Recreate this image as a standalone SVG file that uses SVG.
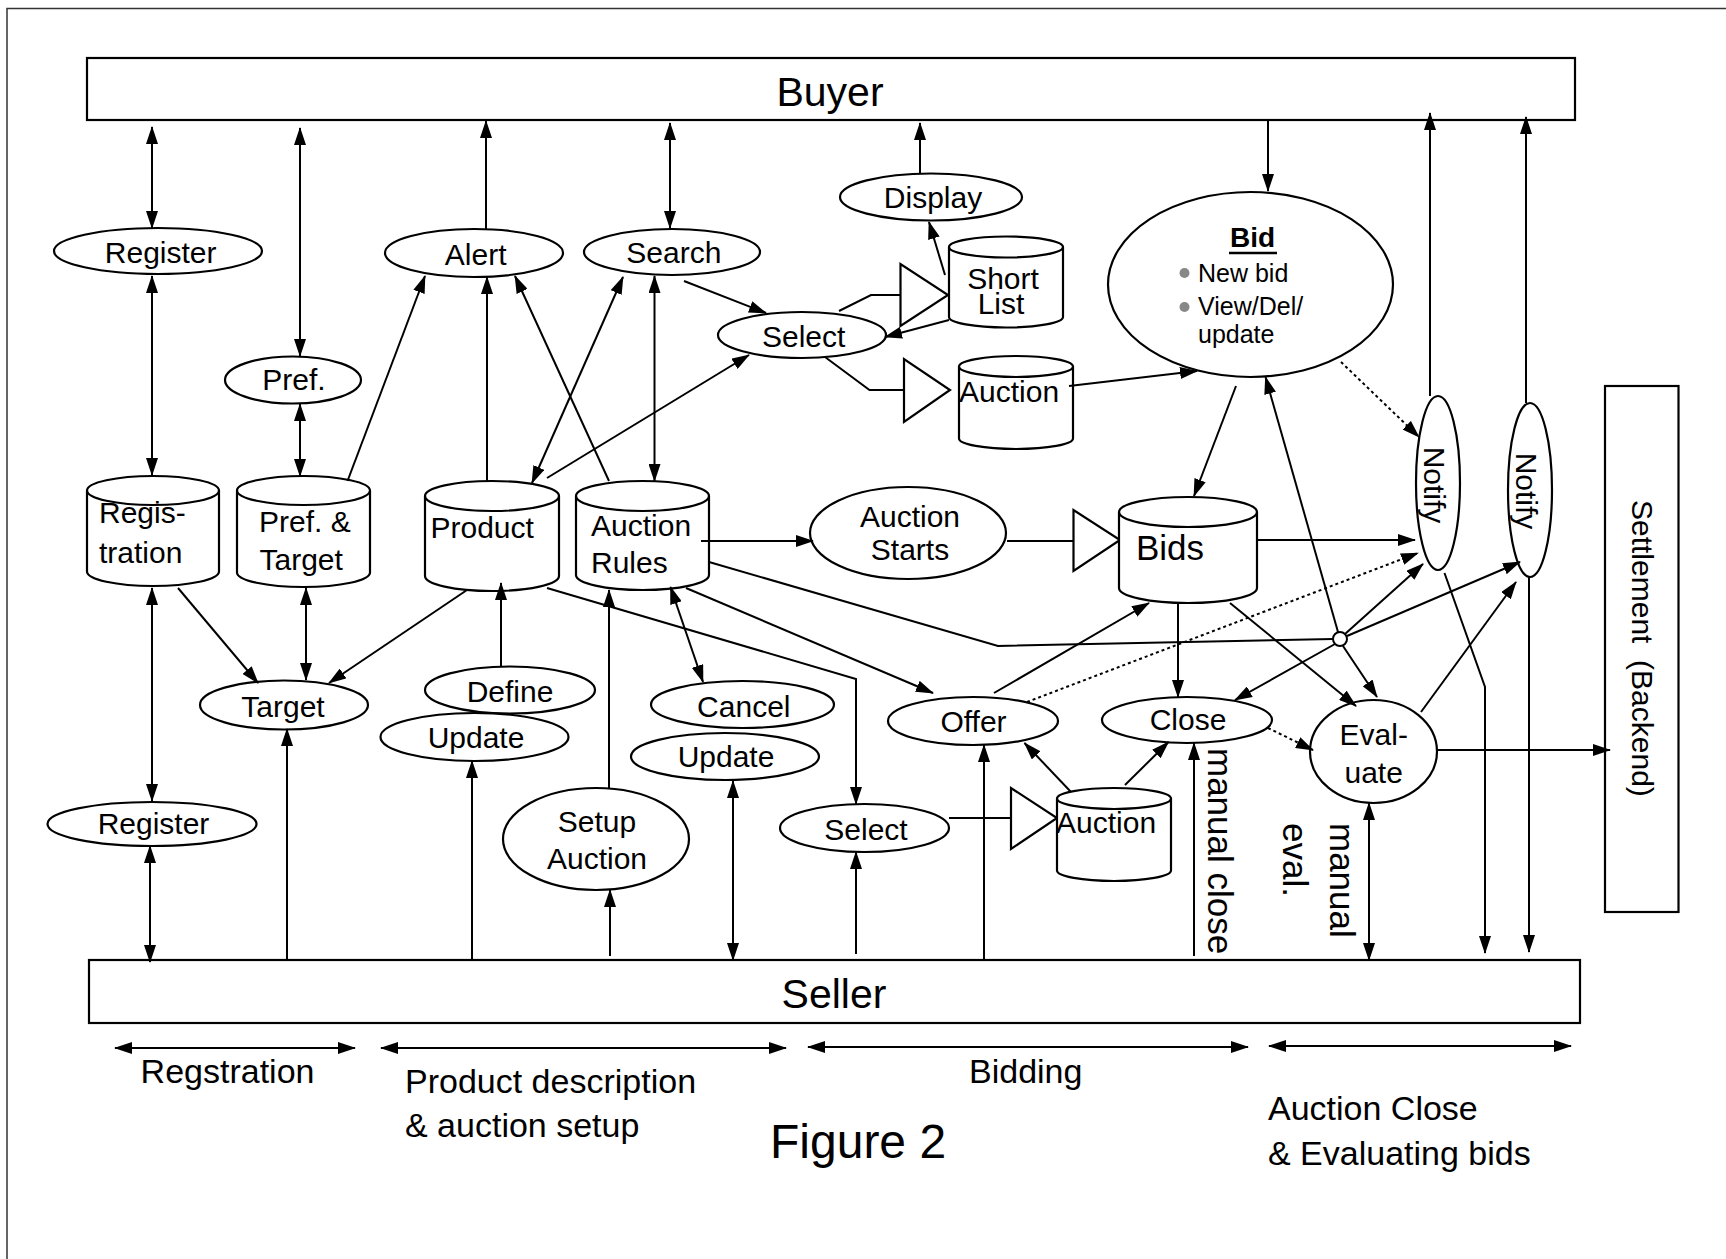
<svg xmlns="http://www.w3.org/2000/svg" width="1726" height="1259" viewBox="0 0 1726 1259">
  <defs>
    <marker id="ah" viewBox="0 0 18 12" markerWidth="18" markerHeight="12" refX="17" refY="6" orient="auto-start-reverse" markerUnits="userSpaceOnUse">
      <path d="M0,0 L18,6 L0,12 z" fill="#000"/>
    </marker>
    <style>
      .n { fill:#fff; stroke:#000; stroke-width:2.2 }
      .rim { fill:none; stroke:#000; stroke-width:2.2 }
      .c { fill:none; stroke:#000; stroke-width:2 }
      .a { marker-end:url(#ah) }
      .b { marker-start:url(#ah); marker-end:url(#ah) }
      .d { stroke-dasharray:3 3 }
      text { font-family:"Liberation Sans", Arial, Helvetica, sans-serif; fill:#000; font-size:30px }
      .m { text-anchor:middle }
      .big { font-size:41px }
      .lbl { font-size:34px }
      .rot { font-size:35px }
      .bl { font-size:25px }
      .bidt { font-size:28px; font-weight:bold }
      .bids { font-size:35px }
      .fig { font-size:48px }
    </style>
  </defs>

  <rect width="1726" height="1259" fill="#fff"/>
  <!-- page frame -->
  <path d="M7,1259 V8.5 H1726" fill="none" stroke="#333" stroke-width="1.5"/>

  <!-- actor bars -->
  <g id="buyer">
    <rect x="87" y="58" width="1488" height="62" class="n" stroke-width="2.5"/>
    <text x="830" y="106" class="m big">Buyer</text>
  </g>
  <g id="seller">
    <rect x="89" y="960" width="1491" height="63" class="n" stroke-width="2.5"/>
    <text x="834" y="1008" class="m big">Seller</text>
  </g>
  <g id="settlement">
    <rect x="1605" y="386" width="73.5" height="526" class="n"/>
    <text transform="translate(1632,500) rotate(90)" style="white-space:pre">Settlement  (Backend)</text>
  </g>

  <!-- buyer side processes -->
  <g id="register-buyer"><ellipse cx="158" cy="251" rx="104" ry="23" class="n"/><text x="160.7" y="262.7" class="m">Register</text></g>
  <g id="pref"><ellipse cx="293" cy="380" rx="68" ry="23.5" class="n"/><text x="294" y="390" class="m">Pref.</text></g>
  <g id="alert"><ellipse cx="474" cy="253" rx="89" ry="24" class="n"/><text x="475.7" y="265" class="m">Alert</text></g>
  <g id="search"><ellipse cx="672" cy="252" rx="88" ry="23" class="n"/><text x="673.8" y="263" class="m">Search</text></g>
  <g id="display"><ellipse cx="931" cy="197" rx="91" ry="23.5" class="n"/><text x="933" y="208" class="m">Display</text></g>
  <g id="select-buyer"><ellipse cx="802" cy="335" rx="84" ry="23" class="n"/><text x="803.7" y="346.7" class="m">Select</text></g>

  <g id="bid">
    <ellipse cx="1250.5" cy="284.5" rx="142.5" ry="92.5" class="n"/>
    <text x="1252.6" y="247" class="m bidt">Bid</text>
    <line x1="1229" y1="253" x2="1277" y2="253" stroke="#000" stroke-width="2.5"/>
    <circle cx="1184.5" cy="273" r="5" fill="#888"/>
    <circle cx="1184.5" cy="307" r="5" fill="#888"/>
    <text x="1198" y="282" class="bl">New bid</text>
    <text x="1198" y="315" class="bl">View/Del/</text>
    <text x="1198" y="343" class="bl">update</text>
  </g>

  <g id="notify-1"><ellipse cx="1438" cy="483" rx="22" ry="87" class="n"/><text transform="translate(1424,485) rotate(90)" class="m">Notify</text></g>
  <g id="notify-2"><ellipse cx="1530" cy="490" rx="22" ry="87" class="n"/><text transform="translate(1516,491) rotate(90)" class="m">Notify</text></g>

  <!-- data stores -->
  <g id="short-list">
    <polygon points="900.5,264 900.5,326 948,295" class="n"/>
    <path d="M949,247 V317 A57,10.5 0 0 0 1063,317 V247 A57,10.5 0 0 0 949,247 Z" class="n"/>
    <path d="M949,247 A57,10.5 0 0 0 1063,247" class="rim"/>
    <text x="1003" y="289" class="m">Short</text>
    <text x="1001" y="314" class="m">List</text>
  </g>
  <g id="auction-offers">
    <polygon points="904,359 904,422 950,390" class="n"/>
    <path d="M959,366.5 V438.5 A57,10.5 0 0 0 1073,438.5 V366.5 A57,10.5 0 0 0 959,366.5 Z" class="n"/>
    <path d="M959,366.5 A57,10.5 0 0 0 1073,366.5" class="rim"/>
    <text x="959" y="402">Auction</text>
  </g>
  <g id="registration">
    <path d="M87,490.5 V571.5 A66,14.5 0 0 0 219,571.5 V490.5 A66,14.5 0 0 0 87,490.5 Z" class="n"/>
    <path d="M87,490.5 A66,14.5 0 0 0 219,490.5" class="rim"/>
    <text x="99" y="523">Regis-</text>
    <text x="99" y="563">tration</text>
  </g>
  <g id="pref-target">
    <path d="M237,490.5 V572.5 A66.5,14.5 0 0 0 370,572.5 V490.5 A66.5,14.5 0 0 0 237,490.5 Z" class="n"/>
    <path d="M237,490.5 A66.5,14.5 0 0 0 370,490.5" class="rim"/>
    <text x="259" y="532">Pref. &amp;</text>
    <text x="259.5" y="570">Target</text>
  </g>
  <g id="product">
    <path d="M425,496 V576 A67,15 0 0 0 559,576 V496 A67,15 0 0 0 425,496 Z" class="n"/>
    <path d="M425,496 A67,15 0 0 0 559,496" class="rim"/>
    <text x="430.5" y="538">Product</text>
  </g>
  <g id="auction-rules">
    <path d="M576,496 V575 A66.5,15 0 0 0 709,575 V496 A66.5,15 0 0 0 576,496 Z" class="n"/>
    <path d="M576,496 A66.5,15 0 0 0 709,496" class="rim"/>
    <text x="591" y="536">Auction</text>
    <text x="591" y="573">Rules</text>
  </g>
  <g id="auction-starts"><ellipse cx="908" cy="533" rx="98" ry="46" class="n"/><text x="910" y="527" class="m">Auction</text><text x="910" y="560" class="m">Starts</text></g>
  <g id="bids">
    <polygon points="1073.5,510 1073.5,571 1120,540" class="n"/>
    <path d="M1119,512 V588 A69,15 0 0 0 1257,588 V512 A69,15 0 0 0 1119,512 Z" class="n"/>
    <path d="M1119,512 A69,15 0 0 0 1257,512" class="rim"/>
    <text x="1136" y="560" class="bids">Bids</text>
  </g>
  <g id="auction-seller">
    <polygon points="1011,788 1011,849 1057,818" class="n"/>
    <path d="M1057,798.5 V870.5 A57,10.5 0 0 0 1171,870.5 V798.5 A57,10.5 0 0 0 1057,798.5 Z" class="n"/>
    <path d="M1057,798.5 A57,10.5 0 0 0 1171,798.5" class="rim"/>
    <text x="1056" y="833">Auction</text>
  </g>

  <!-- seller side processes -->
  <g id="target"><ellipse cx="284" cy="705" rx="84" ry="24.5" class="n"/><text x="283" y="716.7" class="m">Target</text></g>
  <g id="define"><ellipse cx="510" cy="690" rx="85" ry="23.5" class="n"/><text x="510" y="701.7" class="m">Define</text></g>
  <g id="update-product"><ellipse cx="474.5" cy="737" rx="94" ry="24" class="n"/><text x="476" y="748" class="m">Update</text></g>
  <g id="cancel"><ellipse cx="742.5" cy="704.5" rx="91.5" ry="23.5" class="n"/><text x="743.8" y="716.7" class="m">Cancel</text></g>
  <g id="update-rules"><ellipse cx="725" cy="756.5" rx="94" ry="23.5" class="n"/><text x="726" y="766.7" class="m">Update</text></g>
  <g id="offer"><ellipse cx="973" cy="721" rx="85" ry="24" class="n"/><text x="973.5" y="731.7" class="m">Offer</text></g>
  <g id="close"><ellipse cx="1187" cy="720" rx="85" ry="23" class="n"/><text x="1188" y="730" class="m">Close</text></g>
  <g id="evaluate"><ellipse cx="1373.5" cy="751.5" rx="63.5" ry="51.5" class="n"/><text x="1373.7" y="745" class="m">Eval-</text><text x="1373.7" y="783" class="m">uate</text></g>
  <g id="select-seller"><ellipse cx="864.5" cy="828" rx="84.5" ry="24" class="n"/><text x="866" y="840" class="m">Select</text></g>
  <g id="setup-auction"><ellipse cx="596" cy="839" rx="93" ry="51" class="n"/><text x="597" y="832" class="m">Setup</text><text x="597" y="869" class="m">Auction</text></g>
  <g id="register-seller"><ellipse cx="152" cy="824" rx="104.5" ry="22" class="n"/><text x="153.5" y="834.3" class="m">Register</text></g>

  <!-- connectors -->
  <g id="connectors" class="c">
    <!-- to and from the buyer bar -->
    <line x1="152" y1="127" x2="152" y2="228" class="b"/>
    <line x1="300" y1="128" x2="300" y2="356" class="b"/>
    <line x1="486" y1="229" x2="486" y2="121" class="a"/>
    <line x1="670" y1="123" x2="670" y2="228" class="b"/>
    <line x1="920" y1="173" x2="920" y2="123" class="a"/>
    <line x1="1268" y1="121" x2="1268" y2="191" class="a"/>
    <line x1="1430" y1="396" x2="1430" y2="113" class="a"/>
    <line x1="1526" y1="403" x2="1526" y2="117" class="a"/>

    <!-- registration and preferences -->
    <line x1="152" y1="276" x2="152" y2="475" class="b"/>
    <line x1="300" y1="404" x2="300" y2="476" class="b"/>
    <line x1="347.5" y1="481" x2="425" y2="276" class="a"/>
    <line x1="487" y1="481" x2="487" y2="277" class="a"/>
    <line x1="609" y1="481" x2="515" y2="276" class="a"/>
    <line x1="532" y1="483" x2="623" y2="277" class="b"/>
    <line x1="547" y1="478" x2="749" y2="355" class="a"/>
    <line x1="654.5" y1="276" x2="654.5" y2="481" class="b"/>
    <line x1="684" y1="281" x2="766" y2="313" class="a"/>
    <line x1="949" y1="320" x2="885" y2="337" class="a"/>
    <line x1="945" y1="275" x2="929" y2="222" class="a"/>
    <polyline points="839,311 871,295 900.5,295"/>
    <polyline points="825,357 869.5,390 904,390"/>
    <line x1="1069" y1="386" x2="1197" y2="371" class="a"/>
    <line x1="1236" y1="386" x2="1194" y2="496" class="a"/>
    <line x1="1341" y1="362" x2="1419" y2="437" class="a d"/>

    <line x1="178" y1="588" x2="258" y2="683" class="a"/>
    <line x1="152" y1="588" x2="152" y2="801" class="b"/>
    <line x1="306" y1="588" x2="306" y2="680" class="b"/>
    <line x1="467" y1="590" x2="329" y2="683" class="a"/>
    <line x1="501" y1="666" x2="501" y2="583" class="a"/>
    <polyline points="547,588 856,679 856,804" class="a"/>

    <!-- auction rules and bidding -->
    <line x1="701" y1="541" x2="813" y2="541" class="a"/>
    <line x1="1007" y1="541" x2="1073.5" y2="541"/>
    <line x1="1257" y1="540" x2="1415" y2="540" class="a"/>
    <line x1="670.5" y1="587" x2="703" y2="682" class="b"/>
    <line x1="686" y1="588" x2="933" y2="693" class="a"/>
    <polyline points="709,562 998,646 1333,639"/>
    <line x1="609" y1="788" x2="609" y2="590" class="a"/>
    <line x1="733" y1="781" x2="733" y2="960" class="b"/>
    <line x1="856" y1="954" x2="856" y2="852" class="a"/>
    <line x1="949" y1="818" x2="1011" y2="818"/>
    <line x1="984" y1="960" x2="984" y2="745" class="a"/>
    <line x1="1071" y1="792" x2="1024.5" y2="743" class="a"/>
    <line x1="994" y1="693" x2="1149" y2="603" class="a"/>
    <line x1="1027" y1="702" x2="1418" y2="553" class="a d"/>
    <line x1="1125" y1="785" x2="1168.5" y2="742" class="a"/>
    <line x1="1178" y1="603" x2="1178" y2="697" class="a"/>
    <line x1="1230" y1="603" x2="1356" y2="706" class="a"/>
    <line x1="1268" y1="728" x2="1313" y2="750" class="a d"/>
    <line x1="1194" y1="956" x2="1194" y2="743" class="a"/>
    <line x1="1369" y1="803" x2="1369" y2="960" class="b"/>
    <line x1="1437" y1="750" x2="1610" y2="750" class="a"/>
    <line x1="1421" y1="712" x2="1516" y2="582" class="a"/>

    <!-- junction fan-out -->
    <circle cx="1340" cy="639" r="7" fill="#fff"/>
    <line x1="1345" y1="634" x2="1423" y2="564" class="a"/>
    <line x1="1347" y1="636" x2="1520" y2="562" class="a"/>
    <line x1="1335" y1="644" x2="1235" y2="700" class="a"/>
    <line x1="1343" y1="646" x2="1377" y2="697" class="a"/>
    <line x1="1338" y1="632" x2="1265.5" y2="377" class="a"/>
    <polyline points="1444.5,573 1485,687 1485,953" class="a"/>
    <line x1="1529" y1="577" x2="1529" y2="952" class="a"/>

    <!-- up from the seller bar -->
    <line x1="287" y1="960" x2="287" y2="729" class="a"/>
    <line x1="472" y1="960" x2="472" y2="761" class="a"/>
    <line x1="150" y1="846" x2="150" y2="962" class="b"/>
    <line x1="610" y1="956" x2="610" y2="890" class="a"/>

    <!-- phase spans -->
    <line x1="115" y1="1048" x2="355" y2="1048" class="b"/>
    <line x1="381" y1="1048" x2="786" y2="1048" class="b"/>
    <line x1="808" y1="1047" x2="1248" y2="1047" class="b"/>
    <line x1="1269" y1="1046" x2="1571" y2="1046" class="b"/>
  </g>

  <!-- side notes -->
  <text transform="translate(1208,748) rotate(90)" class="rot">manual close</text>
  <text transform="translate(1330,823) rotate(90)" class="rot">manual</text>
  <text transform="translate(1283,823) rotate(90)" class="rot">eval.</text>

  <!-- phase captions -->
  <text x="140.6" y="1083" class="lbl">Regstration</text>
  <text x="405" y="1093" class="lbl">Product description</text>
  <text x="405" y="1137" class="lbl">&amp; auction setup</text>
  <text x="969" y="1083" class="lbl">Bidding</text>
  <text x="1268" y="1120" class="lbl">Auction Close</text>
  <text x="1268" y="1165" class="lbl">&amp; Evaluating bids</text>
  <text x="770" y="1158" class="fig">Figure 2</text>
</svg>
